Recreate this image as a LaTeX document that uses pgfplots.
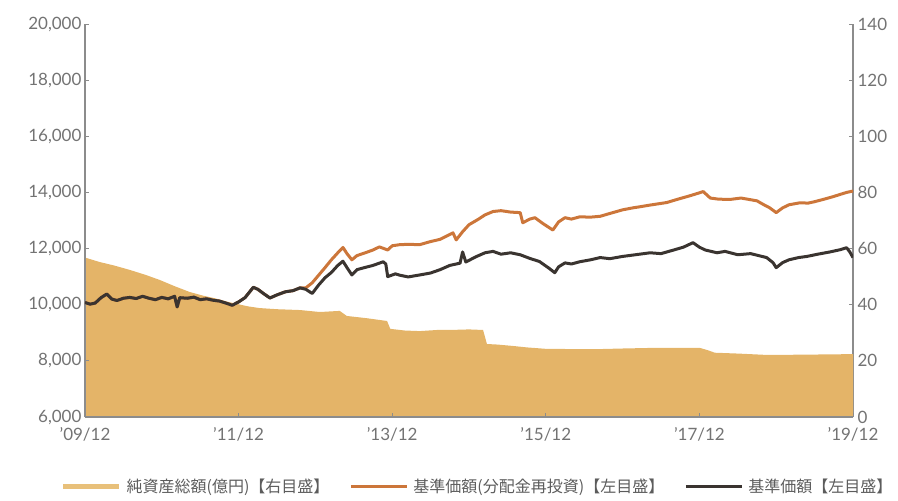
\documentclass[border=0pt]{standalone}
\usepackage{fontspec}
\setmainfont{Lato}
\newfontfamily\jp{Noto Sans CJK JP}
\usepackage{pgfplots}
\usepackage{pgfplotstable}
\pgfplotsset{compat=1.18}
\definecolor{areac}{RGB}{228,180,104}
\definecolor{areal}{RGB}{232,192,122}
\definecolor{orangec}{RGB}{204,118,58}
\definecolor{darkc}{RGB}{58,52,48}
\definecolor{axisc}{RGB}{140,140,140}
\definecolor{labc}{RGB}{115,115,115}

\pgfplotstableread{
m R
0 56.8
2.3 55.2
4.5 54.0
7 52.4
9.5 50.6
11.7 48.8
14 46.6
16.4 44.5
18.5 43.2
20.3 42.3
22 41.2
23.9 40.2
25.5 39.4
27.3 38.8
30 38.4
33.6 38.1
36.7 37.4
39.8 37.8
40.9 36.0
44 35.2
47.2 34.2
47.7 31.4
50 30.8
52.3 30.6
55 31.0
57 31.0
60 31.2
62.2 31.0
62.8 26.0
64.5 25.8
66.9 25.3
69 24.8
71.9 24.3
76 24.2
80.5 24.2
84 24.4
88.3 24.6
92 24.6
96.1 24.6
97.3 23.8
98.4 22.9
102 22.6
106.6 22.1
112 22.2
116 22.3
120 22.4
}\areadata

\pgfplotstableread{
m L
0 10080
0.8 10020
1.6 10060
2.5 10250
3.4 10380
4.2 10200
5 10150
6 10230
7 10260
8 10220
9 10300
10 10230
11 10180
12 10260
13 10210
14 10300
14.4 9920
14.8 10250
16 10230
17 10270
18 10180
19 10210
20 10160
21 10130
22 10060
23 9980
24 10100
25 10250
26.3 10620
27 10550
28 10380
28.9 10240
30 10350
31.3 10460
32.5 10500
33.6 10600
34.5 10550
35.5 10400
36.5 10700
37.5 10960
38.5 11150
39.5 11400
40.3 11550
41 11300
41.7 11060
42.5 11250
43.8 11330
45 11400
46.6 11530
47 11450
47.3 11000
48.5 11100
49.2 11050
50.5 10990
52.3 11060
54 11130
55.5 11250
57 11400
58.6 11480
59 11880
59.5 11520
61 11700
62.5 11850
63.75 11900
65 11800
66.5 11850
68 11780
69.5 11650
71 11540
72.5 11300
73.4 11140
74 11350
75 11490
76 11450
77.3 11530
79 11600
80.5 11680
82 11640
84 11720
86 11780
88.3 11850
90 11820
92 11950
93.5 12050
95 12210
96 12050
96.9 11950
98.75 11850
100 11900
102 11780
104 11820
106.5 11680
107.5 11500
108 11320
109 11500
110 11600
111.5 11680
112.8 11720
114.5 11800
116.4 11880
118 11960
119 12030
119.5 11880
120 11680
}\navdata

\pgfplotstableread{
m L
0 10080
0.8 10020
1.6 10060
2.5 10250
3.4 10380
4.2 10200
5 10150
6 10230
7 10260
8 10220
9 10300
10 10230
11 10180
12 10260
13 10210
14 10300
14.4 9920
14.8 10250
16 10230
17 10270
18 10180
19 10210
20 10160
21 10130
22 10060
23 9980
24 10100
25 10250
26.3 10620
27 10550
28 10380
28.9 10240
30 10350
31.3 10460
32.5 10500
33.6 10600
34.5 10600
35.5 10780
36.5 11050
37.5 11320
38.5 11600
39.5 11850
40.3 12040
41 11800
41.7 11600
42.5 11750
43.8 11850
45 11950
46 12060
47.3 11950
48 12100
49.2 12140
50.5 12150
52.3 12140
54 12250
55.5 12330
57.5 12560
58 12310
59 12600
60 12850
61.5 13050
62.5 13200
63.75 13320
65 13350
66.5 13300
68 13280
68.4 12920
69.5 13050
70.3 13100
71.5 12900
73.1 12660
74 12950
75 13100
76 13050
77.3 13130
79 13120
80.5 13150
82 13250
84 13380
85.6 13450
87 13500
88.3 13550
90.9 13640
92.5 13750
94.5 13880
95.5 13950
96.6 14030
97.7 13800
99 13760
100.8 13750
102.5 13800
104 13740
105 13700
106 13570
107 13450
108 13280
109 13450
110 13560
111.7 13630
113 13620
114 13670
115.5 13760
116.9 13850
118 13930
119 14000
120 14050
}\reinvdata

\begin{document}
\begin{tikzpicture}
\pgfplotsset{
  common/.style={
    scale only axis, width=768pt, height=393pt,
    at={(0pt,0pt)}, anchor=south west,
    xmin=0, xmax=120,
    axis line style={axisc, line width=1.1pt},
    tick style={axisc, line width=0.9pt},
    major tick length=4pt,
    tick align=inside,
    tick label style={font=\fontsize{17}{20}\selectfont, color=labc},
    scaled y ticks=false,
    /pgf/number format/assume math mode=true,
    /pgf/number format/1000 sep={,},
  }
}
\begin{axis}[common,
  ymin=0, ymax=140,
  axis x line=none, axis y line*=right,
  ytick={0,20,...,140},
  yticklabel style={xshift=1pt},
]
\addplot[fill=areac, draw=none] table[x=m, y=R] {\areadata} \closedcycle;
\end{axis}
\begin{axis}[common,
  ymin=6000, ymax=20000,
  axis x line*=bottom, axis y line*=left,
  ytick={6000,8000,...,20000},
  xtick={0,24,48,72,96,120},
  xticklabels={{'09/12},{'11/12},{'13/12},{'15/12},{'17/12},{'19/12}},
  xticklabel style={yshift=-7pt},
  legend columns=3,
  legend style={at={(0.511,-0.178)}, anchor=center, draw=none, fill=none,
    font=\jp\fontsize{16}{19}\selectfont, text=labc!80!black,
    /tikz/every even column/.append style={column sep=18pt},
    cells={anchor=west}},
  legend image code/.code={\draw[#1] (0pt,0pt) -- (56pt,0pt); \path (59pt,0pt);},
]
\addlegendimage{line width=5pt, color=areal}
\addlegendentry{純資産総額(億円)【右目盛】}
\addplot[color=orangec, line width=3pt, line join=round] table[x=m, y=L] {\reinvdata};
\addlegendentry{基準価額(分配金再投資)【左目盛】}
\addplot[color=darkc, line width=3pt, line join=round] table[x=m, y=L] {\navdata};
\addlegendentry{基準価額【左目盛】}
\end{axis}
\pgfresetboundingbox
\path (-85pt,-84pt) rectangle (813pt,417pt);
\end{tikzpicture}
\end{document}
